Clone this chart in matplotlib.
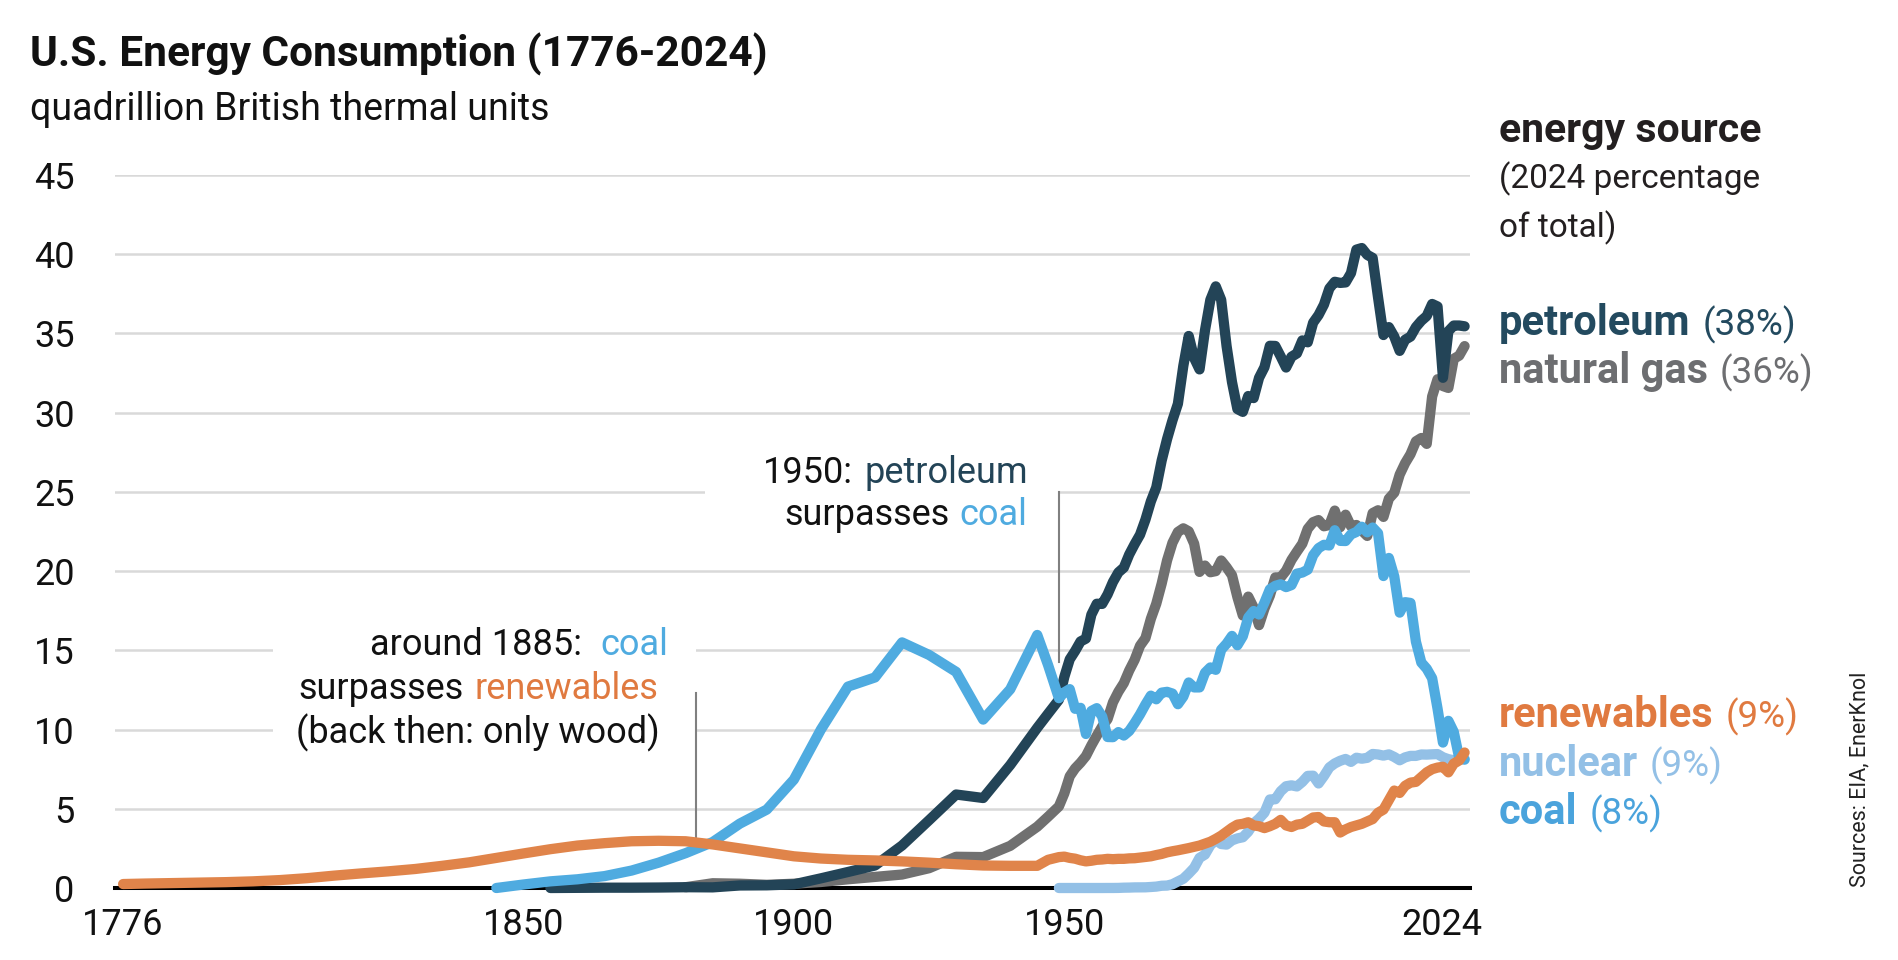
import matplotlib
matplotlib.use("Agg")
import matplotlib.pyplot as plt
from matplotlib.patches import Rectangle
import numpy as np

W, H = 1898, 960
plt.rcParams["font.family"] = ["Roboto", "DejaVu Sans"]

# years: 5-year estimates before 1949, annual data afterwards
early_years = [1776, 1780, 1785, 1790, 1795, 1800, 1805, 1810, 1815, 1820, 1825, 1830,
               1835, 1840, 1845, 1850, 1855, 1860, 1865, 1870, 1875, 1880, 1885, 1890,
               1895, 1900, 1905, 1910, 1915, 1920, 1925, 1930, 1935, 1940, 1945, 1947]
annual_years = list(range(1949, 2025))

# quadrillion Btu
renew_early = [0.25, 0.28, 0.31, 0.34, 0.37, 0.42, 0.5, 0.62, 0.78, 0.92, 1.05, 1.2,
               1.4, 1.62, 1.9, 2.18, 2.45, 2.68, 2.83, 2.95, 2.98, 2.95, 2.75, 2.5,
               2.25, 2.0, 1.86, 1.78, 1.74, 1.68, 1.6, 1.5, 1.42, 1.4, 1.4, 1.78]
coal_early = [None] * 14 + [0.0, 0.22, 0.42, 0.55, 0.75, 1.1, 1.6, 2.2, 2.9, 4.06,
                            4.95, 6.84, 10.0, 12.71, 13.29, 15.5, 14.71, 13.64, 10.63,
                            12.54, 15.97, 14.07]
petrol_early = [None] * 16 + [0.0, 0.01, 0.02, 0.02, 0.03, 0.05, 0.04, 0.16, 0.17, 0.23,
                              0.61, 1.01, 1.42, 2.68, 4.28, 5.9, 5.68, 7.76, 10.11, 11.0]
gas_early = [None] * 21 + [0.05, 0.3, 0.27, 0.2, 0.27, 0.38, 0.55, 0.7, 0.85, 1.25, 1.97,
                           1.95, 2.66, 3.87, 4.5]
nuclear_early = [None] * 36

petrol_annual = [11.88, 13.32, 14.43, 14.96, 15.56, 15.74, 17.25, 17.94, 17.93, 18.53,
                 19.32, 19.92, 20.22, 21.05, 21.70, 22.30, 23.25, 24.40, 25.28, 26.98,
                 28.34, 29.52, 30.56, 32.95, 34.84, 33.45, 32.73, 35.18, 37.12, 37.97,
                 37.12, 34.20, 31.93, 30.23, 30.05, 31.05, 30.92, 32.20, 32.87, 34.22,
                 34.21, 33.55, 32.85, 33.53, 33.74, 34.56, 34.44, 35.68, 36.16, 36.82,
                 37.84, 38.26, 38.19, 38.22, 38.81, 40.29, 40.39, 39.96, 39.77, 37.28,
                 34.9, 35.4, 34.8, 33.9, 34.6, 34.8, 35.4, 35.8, 36.1, 36.86,
                 36.70, 32.20, 35.14, 35.50, 35.50, 35.45]
gas_annual = [5.15, 5.97, 7.05, 7.55, 7.91, 8.33, 9.0, 9.61, 10.19, 10.66,
              11.72, 12.39, 12.93, 13.73, 14.40, 15.29, 15.77, 16.99, 17.94, 19.21,
              20.68, 21.79, 22.47, 22.70, 22.51, 21.73, 19.95, 20.35, 19.93, 20.00,
              20.67, 20.24, 19.74, 18.36, 17.20, 18.39, 17.70, 16.59, 17.64, 18.45,
              19.60, 19.60, 20.03, 20.71, 21.23, 21.73, 22.67, 23.09, 23.22, 22.83,
              22.91, 23.82, 22.77, 23.56, 22.83, 22.91, 22.56, 22.22, 23.66, 23.84,
              23.42, 24.57, 24.95, 26.09, 26.81, 27.38, 28.19, 28.40, 28.03, 31.02,
              32.11, 31.68, 31.56, 33.40, 33.60, 34.20]
coal_annual = [11.98, 12.35, 12.55, 11.31, 11.37, 9.72, 11.17, 11.35, 10.82, 9.53,
               9.52, 9.84, 9.62, 9.91, 10.41, 10.96, 11.58, 12.14, 11.91, 12.33,
               12.38, 12.27, 11.60, 12.08, 12.97, 12.66, 12.66, 13.58, 13.92, 13.77,
               15.04, 15.42, 15.91, 15.32, 15.89, 17.07, 17.48, 17.26, 18.01, 18.85,
               19.07, 19.17, 18.99, 19.12, 19.84, 19.91, 20.09, 21.00, 21.45, 21.66,
               21.62, 22.58, 21.91, 21.90, 22.32, 22.47, 22.80, 22.45, 22.75, 22.39,
               19.69, 20.83, 19.66, 17.38, 18.04, 17.99, 15.55, 14.23, 13.84, 13.24,
               11.32, 9.18, 10.55, 9.85, 8.22, 8.10]
nuclear_annual = [0.0, 0.0, 0.0, 0.0, 0.0, 0.0, 0.0, 0.0, 0.0, 0.002,
                  0.002, 0.006, 0.02, 0.026, 0.038, 0.04, 0.043, 0.064, 0.088, 0.142,
                  0.154, 0.239, 0.413, 0.584, 0.910, 1.272, 1.900, 2.111, 2.702, 3.024,
                  2.776, 2.739, 3.008, 3.131, 3.203, 3.553, 4.076, 4.380, 4.754, 5.587,
                  5.602, 6.104, 6.422, 6.479, 6.410, 6.694, 7.075, 7.087, 6.597, 7.068,
                  7.610, 7.862, 8.029, 8.145, 7.959, 8.222, 8.161, 8.215, 8.459, 8.426,
                  8.355, 8.434, 8.269, 8.062, 8.244, 8.338, 8.337, 8.427, 8.419, 8.438,
                  8.452, 8.251, 8.131, 8.061, 8.09, 8.15]
renew_annual = [1.95, 1.98, 1.9, 1.85, 1.75, 1.68, 1.72, 1.78, 1.8, 1.84,
                1.82, 1.84, 1.84, 1.87, 1.88, 1.92, 1.96, 2.0, 2.08, 2.15,
                2.25, 2.32, 2.38, 2.45, 2.52, 2.6, 2.68, 2.8, 2.92, 3.1,
                3.3, 3.55, 3.8, 4.0, 4.05, 4.15, 3.95, 3.9, 3.78, 3.9,
                4.05, 4.3, 3.95, 3.85, 4.0, 4.05, 4.25, 4.45, 4.48, 4.2,
                4.15, 4.15, 3.5, 3.7, 3.85, 3.95, 4.05, 4.2, 4.35, 4.75,
                4.95, 5.55, 6.15, 6.0, 6.45, 6.65, 6.7, 7.0, 7.3, 7.5,
                7.6, 7.65, 7.3, 7.85, 8.05, 8.55]

sources = ["nuclear", "natural gas", "petroleum", "coal", "renewables"]
colors = {"petroleum": "#234457", "natural gas": "#707070", "coal": "#4fabe0",
          "nuclear": "#93c0e6", "renewables": "#e0844a"}
series = {
    "nuclear": nuclear_early + nuclear_annual,
    "natural gas": gas_early + gas_annual,
    "petroleum": petrol_early + petrol_annual,
    "coal": coal_early + coal_annual,
    "renewables": renew_early + renew_annual,
}
shares = {"petroleum": "(38%)", "natural gas": "(36%)", "renewables": "(9%)",
          "nuclear": "(9%)", "coal": "(8%)"}
years = early_years + annual_years
xtick_years = [1776, 1850, 1900, 1950, 2024]

fig = plt.figure(figsize=(W / 100, H / 100), dpi=100)
ax = fig.add_axes([115 / W, 1 - 888 / H, (1470 - 115) / W, (888 - 175) / H])
ax.set_xlim(1774.5, 2025.0)
ax.set_ylim(0, 45)

for name in sources:
    ax.plot(years, np.array(series[name], dtype=float), color=colors[name], lw=7.4,
            solid_capstyle="round", solid_joinstyle="round", clip_on=False, zorder=4)

# grid and axis
ax.set_axisbelow(True)
ax.set_yticks(range(0, 50, 5))
ax.yaxis.grid(True, color="#d9d9d9", lw=1.8)
ax.xaxis.grid(False)
for s in ["left", "right", "top"]:
    ax.spines[s].set_visible(False)
ax.spines["bottom"].set_linewidth(2.9)
ax.spines["bottom"].set_color("black")
ax.spines["bottom"].set_zorder(3)
ax.tick_params(axis="y", length=0, pad=29, labelsize=26, labelcolor="#111111")
ax.set_xticks(xtick_years)
ax.set_xticklabels([])
ax.tick_params(axis="x", length=0)
for yr in xtick_years:
    dx = -16.5 if yr == 2024 else 0
    ax.annotate(str(yr), xy=(yr, 0), xycoords=("data", "axes fraction"),
                xytext=(dx, -13.5), textcoords="offset points", ha="center", va="top",
                fontsize=26, color="#111111")

# white boxes behind the notes, and the pointer lines
ax.add_patch(Rectangle((1803.7, 7.4), 1882.0 - 1803.7, 17.2 - 7.4, facecolor="white",
                       edgecolor="none", zorder=1))
ax.add_patch(Rectangle((1883.6, 22.3), 1949.0 - 1883.6, 27.9 - 22.3, facecolor="white",
                       edgecolor="none", zorder=1))
ax.plot([1882, 1882], [3.2, 12.3], color="#808080", lw=1.5, zorder=2)
ax.plot([1949, 1949], [14.25, 25.0], color="#808080", lw=1.5, zorder=2)

renderer = fig.canvas.get_renderer()


def line_parts(x, y, parts, align="left"):
    # parts: (text, color, size, weight, gap before in px)
    objs, widths = [], []
    for txt, col, size, weight, gap in parts:
        t = fig.text(0, 0, txt, color=col, fontsize=size, fontweight=weight,
                     ha="left", va="baseline")
        objs.append(t)
        widths.append(t.get_window_extent(renderer).width)
    total = sum(widths) + sum(p[4] for p in parts)
    cur = x if align == "left" else x - total
    for t, w, p in zip(objs, widths, parts):
        cur += p[4]
        t.set_position((cur / W, 1 - y / H))
        cur += w


INK = "#111111"
fig.text(30 / W, 1 - 67 / H, "U.S. Energy Consumption (1776-2024)", fontsize=30.5,
         fontweight="bold", color=INK, va="baseline")
fig.text(30 / W, 1 - 120 / H, "quadrillion British thermal units", fontsize=27,
         color=INK, va="baseline")

fig.text(1499 / W, 1 - 142 / H, "energy source", fontsize=29.5, fontweight="bold",
         color="#231f20", va="baseline")
fig.text(1499 / W, 1 - 188 / H, "(2024 percentage", fontsize=24, color="#231f20",
         va="baseline")
fig.text(1499 / W, 1 - 237 / H, "of total)", fontsize=24, color="#231f20", va="baseline")

label_base = {"petroleum": 335, "natural gas": 383, "renewables": 727, "nuclear": 776,
              "coal": 824}
label_colors = {"petroleum": "#234a5f", "natural gas": "#6d6e71", "renewables": "#e07a40",
                "nuclear": "#93c0e6", "coal": "#4aa3dc"}
for name, yb in label_base.items():
    line_parts(1499, yb, [(name, label_colors[name], 30, "bold", 0),
                          (shares[name], label_colors[name], 26.5, "normal", 12)])

# notes
line_parts(668, 655, [("around 1885:", INK, 26, "normal", 0),
                      ("coal", colors["coal"], 26, "normal", 18)], align="right")
line_parts(658, 699, [("surpasses", INK, 26, "normal", 0),
                      ("renewables", "#e07a40", 26, "normal", 10)], align="right")
line_parts(660, 743, [("(back then: only wood)", INK, 26, "normal", 0)], align="right")
line_parts(1028, 483, [("1950:", INK, 26, "normal", 0),
                       ("petroleum", colors["petroleum"], 26, "normal", 11)], align="right")
line_parts(1027, 525, [("surpasses", INK, 26, "normal", 0),
                       ("coal", colors["coal"], 26, "normal", 10)], align="right")

fig.text(1860 / W, 1 - 887 / H, "Sources: EIA, EnerKnol", rotation=90, fontsize=15.5,
         color="#222222", ha="center", va="bottom")

fig.savefig("out.png", dpi=100)
